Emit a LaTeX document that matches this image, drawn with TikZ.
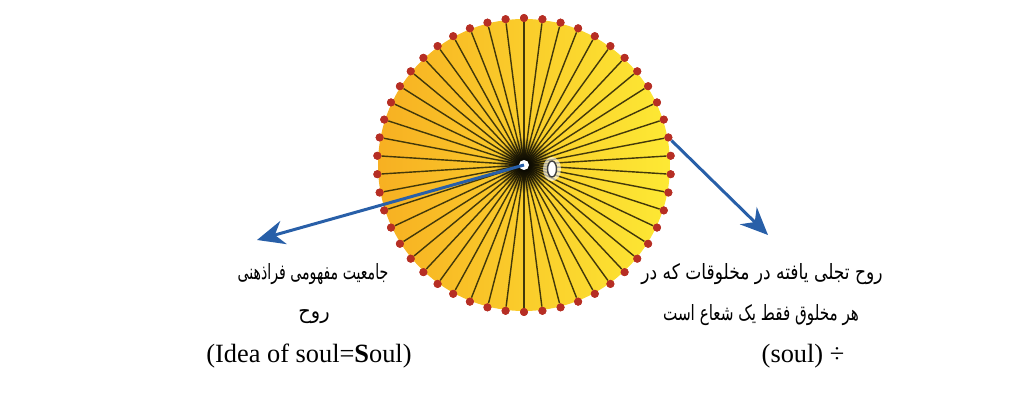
\documentclass[tikz,border=0pt]{standalone}
\usepackage{fontspec}
\setmainfont{Liberation Serif}
\newfontfamily\arabicfont[Script=Arabic]{DejaVu Sans}
\TeXXeTstate=1
\usepackage{tikz}
\usetikzlibrary{
  arrows.meta,
  calc,
  positioning,
  fadings
}
\definecolor{sunL}{RGB}{247,176,34}
\definecolor{sunR}{RGB}{253,233,52}
\definecolor{spoke}{RGB}{66,56,10}
\definecolor{bead}{RGB}{182,46,36}
\definecolor{ray}{RGB}{40,95,168}
\tikzfading[name=glow, inner color=transparent!0, outer color=transparent!100]
\tikzset{
  line cap=round,
  line join=round,
  bead/.style={circle, fill=bead, inner sep=0pt, minimum size=0.16cm},
  rayarrow/.style={-{Stealth[length=0.55cm, width=0.48cm, inset=0.18cm]}, draw=ray, line width=1.7pt},
  fatext/.style={font=\arabicfont\fontsize{12}{14}\selectfont, inner sep=0pt, transform shape},
  entext/.style={font=\fontsize{15}{17}\selectfont, inner sep=0pt}
}

\begin{document}
\begin{tikzpicture}[x=0.02cm, y=0.02cm]
  \useasboundingbox (0,0) rectangle (1027,412);

  % the disk
  \coordinate (c) at (524,247);
  \shade[left color=sunL, right color=sunR] (c) circle (146);

  % spokes and beads
  \foreach \i in {0,...,49}{
    \node[bead] (r\i) at ($(c)+({90+7.2*\i}:147)$) {};
    \draw[spoke, line width=0.8pt] (c) -- (r\i);
  }
  \foreach \i in {0,...,49}{
    \node[bead] at (r\i) {};
  }

  % centre
  \fill[black, path fading=glow] (c) circle (28);
  \fill[white] (c) circle (5);
  \fill[white, opacity=0.6] (552,243) ellipse [x radius=9, y radius=12];
  \draw[fill=white, draw=black!75, line width=0.8pt] (552,243) ellipse [x radius=4.5, y radius=8];

  % arrows
  \coordinate (tipL) at (257,172);
  \coordinate (tipR) at (768,177);
  \draw[rayarrow] (c) -- (tipL);
  \draw[rayarrow] (r39) -- (tipR);

  % left labels
  \node[fatext, xscale=0.67] (l1) at (313,138) {\beginR جامعیت مفهومی فراذهنی\endR};
  \node[fatext, xscale=0.92] (l2) at (314,95) {\beginR روح\endR};
  \node[entext] (l3) at (309,56) {(Idea of soul=\textbf{S}oul)};

  % right labels
  \node[fatext, xscale=0.81] (r1) at (762,138) {\beginR روح تجلی یافته در مخلوقات که در\endR};
  \node[fatext, xscale=0.72] (r2) at (761,97) {\beginR هر مخلوق فقط یک شعاع است\endR};
  \node[entext] (r3) at (803,56) {(soul) ÷};
\end{tikzpicture}
\end{document}
